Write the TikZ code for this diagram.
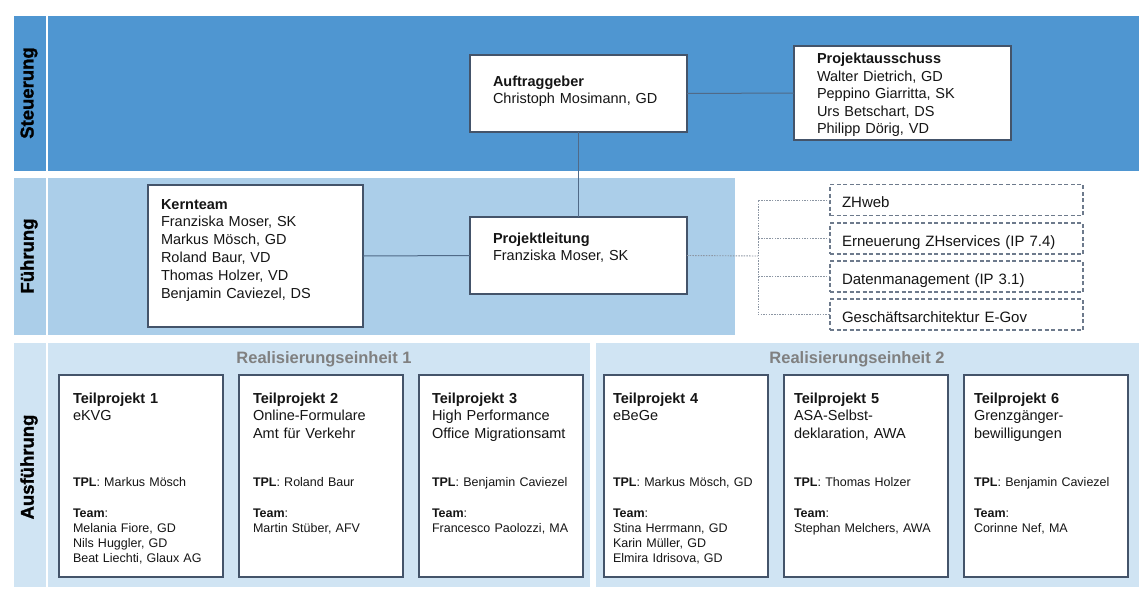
\documentclass[tikz,border=0pt]{standalone}
\usepackage{fontspec}
\setmainfont{Liberation Sans}
\newfontfamily\lanefont[BoldFeatures={FakeBold=1.3}]{Liberation Sans}
\definecolor{steu}{HTML}{4F96D1}
\definecolor{fuhr}{HTML}{ABCEE9}
\definecolor{ausf}{HTML}{D0E4F3}
\definecolor{boxc}{HTML}{44546A}
\definecolor{connc}{HTML}{506A88}
\definecolor{dashc}{HTML}{6D7A8C}
\definecolor{dotc}{HTML}{8C96A3}
\definecolor{txtc}{HTML}{151515}
\definecolor{reg}{HTML}{808080}
\newcommand\tpbox[7]{%
 \node[box, minimum width=164, minimum height=202] (#1) at (#2,375) {};
 \node[txt] (#1t) at (#3,403) {\textbf{#4}\\#5};
 \node[small] (#1l) at (#3,486) {\textbf{TPL}: #6};
 \node[small] (#1m) at (#3,517) {\textbf{Team}:\\#7};
}
\begin{document}
\begin{tikzpicture}[x=1pt,y=-1pt,
  box/.style={draw=boxc, line width=1.4pt, fill=white, inner sep=0, outer sep=0, anchor=north west},
  txt/.style={anchor=base west, inner sep=0, outer sep=0, align=left, text width=260pt, text=txtc, font=\fontsize{14.5}{17.6}\selectfont},
  small/.style={txt, font=\fontsize{12.5}{15.2}\selectfont},
  dbox/.style={draw=dashc, line width=1.2pt, dash pattern=on 4pt off 2.5pt, fill=white, inner sep=0, outer sep=0, anchor=north west, minimum width=253, minimum height=31},
  dtxt/.style={txt, font=\fontsize{15}{18}\selectfont},
  conn/.style={draw=connc, line width=1pt},
  dconn/.style={draw=dotc, line width=0.9pt, dash pattern=on 1.5pt off 1.2pt},
  lane/.style={rotate=90, font=\lanefont\fontsize{18.5}{20}\selectfont\bfseries, text=black, inner sep=0},
  re/.style={font=\fontsize{16.5}{18}\selectfont\bfseries, text=reg, inner sep=0, anchor=base}
]
\useasboundingbox (0,0) rectangle (1144,603);
\fill[white] (0,0) rectangle (1144,603);
% bands
\fill[steu] (14,16) rectangle (46,171);
\fill[steu] (47.5,16) rectangle (1139,171);
\fill[fuhr] (14,178) rectangle (46,335);
\fill[fuhr] (47.5,178) rectangle (735,335);
\fill[ausf] (14,343) rectangle (46,587);
\fill[ausf] (47.5,343) rectangle (590,587);
\fill[ausf] (596,343) rectangle (1139,587);
% lane labels
\node[lane] (ls) at (29,93) {Steuerung};
\node[lane] (lf) at (29,256) {Führung};
\node[lane] (la) at (29,467) {Ausführung};
% Steuerung
\node[box, minimum width=217, minimum height=77] (auf) at (470,55) {};
\node[txt] (auft) at (493,86) {\textbf{Auftraggeber}\\Christoph Mosimann, GD};
\node[box, minimum width=217, minimum height=94] (pa) at (794,46) {};
\node[txt] (pat) at (817,63.5) {\textbf{Projektausschuss}\\Walter Dietrich, GD\\Peppino Giarritta, SK\\Urs Betschart, DS\\Philipp Dörig, VD};
% Fuehrung
\node[box, minimum width=215, minimum height=142] (kt) at (148,185) {};
\node[txt, font=\fontsize{14.5}{17.8}\selectfont] (ktt) at (161,209) {\textbf{Kernteam}\\Franziska Moser, SK\\Markus Mösch, GD\\Roland Baur, VD\\Thomas Holzer, VD\\Benjamin Caviezel, DS};
\node[box, minimum width=217, minimum height=77] (pl) at (470,217) {};
\node[txt] (plt) at (493,243) {\textbf{Projektleitung}\\Franziska Moser, SK};
\node[dbox] (zh) at (830,184.5) {};
\node[dtxt] (zht) at (842,207) {ZHweb};
\node[dbox] (er) at (830,223) {};
\node[dtxt] (ert) at (842,246) {Erneuerung ZHservices (IP 7.4)};
\node[dbox] (da) at (830,261) {};
\node[dtxt] (dat) at (842,284) {Datenmanagement (IP 3.1)};
\node[dbox] (ge) at (830,299) {};
\node[dtxt] (get) at (842,322) {Geschäftsarchitektur E-Gov};
% Ausfuehrung
\node[re] (re1) at (324,363) {Realisierungseinheit 1};
\node[re] (re2) at (857,363) {Realisierungseinheit 2};
\tpbox{tpa}{59}{73}{Teilprojekt 1}{eKVG}{Markus Mösch}{Melania Fiore, GD\\Nils Huggler, GD\\Beat Liechti, Glaux AG}
\tpbox{tpb}{239}{253}{Teilprojekt 2}{Online-Formulare\\Amt für Verkehr}{Roland Baur}{Martin Stüber, AFV}
\tpbox{tpc}{419}{432}{Teilprojekt 3}{High Performance\\Office Migrationsamt}{Benjamin Caviezel}{Francesco Paolozzi, MA}
\tpbox{tpd}{604}{613}{Teilprojekt 4}{eBeGe}{Markus Mösch, GD}{Stina Herrmann, GD\\Karin Müller, GD\\Elmira Idrisova, GD}
\tpbox{tpe}{784}{794}{Teilprojekt 5}{ASA-Selbst-\\deklaration, AWA}{Thomas Holzer}{Stephan Melchers, AWA}
\tpbox{tpf}{964}{974}{Teilprojekt 6}{Grenzgänger-\\bewilligungen}{Benjamin Caviezel}{Corinne Nef, MA}
% connectors
\draw[conn] (auf.east) -- (pa.west);
\draw[conn] (auf.south) -- (pl.north);
\draw[conn] (kt.east) -- (pl.west);
\coordinate (j) at (758,256);
\draw[dconn] (pl.east) -- (j);
\draw[dconn] (zh.west) -- (zh.west -| j) -- (ge.west -| j) -- (ge.west);
\draw[dconn] (er.west) -- (er.west -| j);
\draw[dconn] (da.west) -- (da.west -| j);
\end{tikzpicture}
\end{document}
